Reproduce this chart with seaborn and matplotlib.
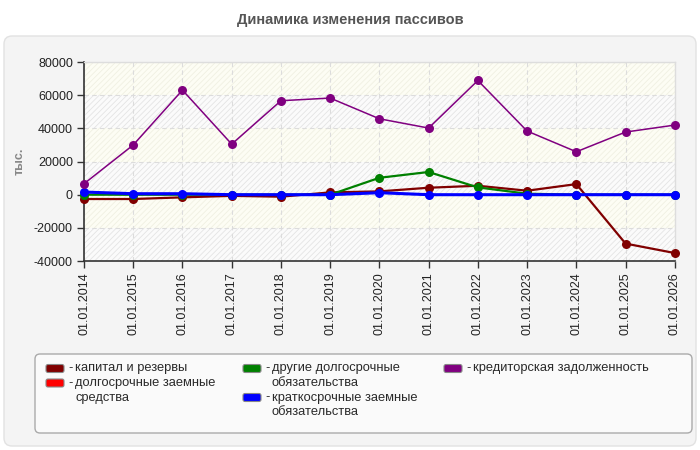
#!/usr/bin/env python3
"""
Liabilities dynamics chart (Динамика изменения пассивов)
"""

import numpy as np
import pandas as pd
import seaborn as sns
import matplotlib.pyplot as plt
from matplotlib.patches import FancyBboxPatch

# --- data ---
dates = ['01.01.2014', '01.01.2015', '01.01.2016', '01.01.2017', '01.01.2018',
         '01.01.2019', '01.01.2020', '01.01.2021', '01.01.2022', '01.01.2023',
         '01.01.2024', '01.01.2025', '01.01.2026']

capital = [-2600, -2600, -1600, -700, -1200, 1400, 2000, 4200, 5400, 2400, 6400, -29500, -35200]
long_loans = [np.nan] * 13  # no values shown for this series
other_long = [0, 0, 0, 0, 0, 0, 10200, 13700, 4400, 600, 0, 0, 0]
short_loans = [1600, 600, 600, 0, 0, 0, 1200, 0, 0, 0, 0, 0, 0]
payables = [6600, 30000, 63100, 30500, 56700, 58300, 45800, 40200, 68900, 38400, 25900, 37800, 42000]

labels = ['капитал и резервы', 'долгосрочные заемные\nсредства',
          'другие долгосрочные\nобязательства', 'краткосрочные заемные\nобязательства',
          'кредиторская задолженность']
colors = ['#800000', '#ff0000', '#008000', '#0000ff', '#800080']
series = [capital, long_loans, other_long, short_loans, payables]
widths = [1.6, 1.6, 1.6, 2.2, 1.1]

yticks = [-40000, -20000, 0, 20000, 40000, 60000, 80000]

W, H = 700, 450


def px(x, y):
    """pixel coords (from top-left) -> figure fraction"""
    return x / W, 1 - y / H


def draw_legend(fig):
    # frame
    fig.patches.append(FancyBboxPatch((35, H - 433), 657, 79, boxstyle='round,pad=0,rounding_size=5',
                                      transform=None, facecolor='#fafafa',
                                      edgecolor='#aaaaaa', lw=1, zorder=-4))
    col_x = [46, 243, 444]
    first_line = 368.5
    line_h = 14.5
    per_col = [[0, 1], [2, 3], [4]]
    for c, idxs in enumerate(per_col):
        line = 0
        for i in idxs:
            y = first_line + line * line_h
            x0 = col_x[c]
            fig.patches.append(FancyBboxPatch((x0, H - y - 4), 18, 8,
                                              boxstyle='round,pad=0,rounding_size=2',
                                              transform=None, facecolor=colors[i],
                                              edgecolor='#888888', lw=0.8, zorder=2))
            fig.text(*px(x0 + 22, y), '-', ha='left', va='center', fontsize=9.3, color='#2a2a2a')
            for k, part in enumerate(labels[i].split('\n')):
                fig.text(*px(x0 + 29, y + k * line_h), part, ha='left', va='center',
                         fontsize=9.3, color='#2a2a2a')
                line += 1


def main():
    sns.set_style('white')
    plt.rcParams['font.family'] = ['Liberation Sans', 'DejaVu Sans']
    plt.rcParams['hatch.linewidth'] = 0.6

    fig = plt.figure(figsize=(7, 4.5), dpi=100, facecolor='white')

    # background panel
    fig.patches.append(FancyBboxPatch((4, 4), 692, 410, boxstyle='round,pad=0,rounding_size=8',
                                      transform=None, facecolor='#f4f4f4',
                                      edgecolor='#e2e2e2', lw=1, zorder=-5))

    ax = fig.add_axes([0.12, 0.42, 0.844, 0.442])
    ax.set_facecolor('white')

    # striped background bands
    for i in range(len(yticks) - 1):
        lo, hi = yticks[i], yticks[i + 1]
        if i % 2 == 0:
            ax.axhspan(lo, hi, facecolor='#fbfbfb', edgecolor='#e4e4e4',
                       hatch='//////', lw=0, zorder=0.1)
        else:
            ax.axhspan(lo, hi, facecolor='#fdfdf4', edgecolor='#f0f0e2',
                       hatch='//////', lw=0, zorder=0.1)

    df = pd.DataFrame({'date': dates})
    for name, vals, col, lw in zip(labels, series, colors, widths):
        if np.all(np.isnan(vals)):
            continue
        df['value'] = vals
        sns.lineplot(data=df, x='date', y='value', color=col, lw=lw, marker='o',
                     markersize=6.5, markeredgewidth=0, ax=ax, clip_on=False,
                     zorder=3, sort=False)

    ax.set_xlim(0, len(dates) - 1)
    ax.set_ylim(-40000, 80000)
    ax.set_yticks(yticks)
    ax.set_yticklabels([str(v) for v in yticks])
    ax.set_xticks(range(len(dates)))
    ax.set_xticklabels(dates, rotation=90)
    ax.tick_params(axis='both', labelsize=9, colors='#333333', labelcolor='#222222',
                   length=5, width=1, direction='out', pad=3)
    ax.tick_params(axis='both', left=True, bottom=True)

    ax.grid(True, ls=(0, (4, 3)), color='#dcdcdc', lw=0.8)
    ax.set_axisbelow(True)

    for side in ['left', 'bottom']:
        ax.spines[side].set_color('#333333')
        ax.spines[side].set_linewidth(1.2)
    for side in ['top', 'right']:
        ax.spines[side].set_color('#dddddd')
        ax.spines[side].set_linewidth(1)

    ax.set_xlabel('')
    ax.set_ylabel('тыс.', fontsize=9, fontweight='bold', color='#888888', labelpad=6)

    fig.text(0.5, 0.955, 'Динамика изменения пассивов', ha='center', va='center',
             fontsize=10.5, fontweight='bold', color='#555555')

    draw_legend(fig)

    fig.savefig('out.png', dpi=100, facecolor='white')


if __name__ == "__main__":
    main()
